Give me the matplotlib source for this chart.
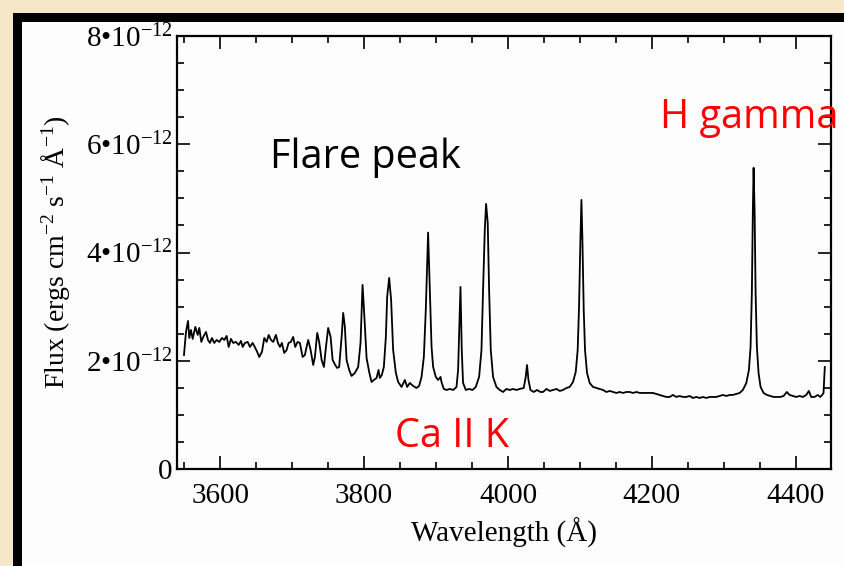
import matplotlib
matplotlib.use("Agg")
import matplotlib.pyplot as plt
from matplotlib.patches import Rectangle
from matplotlib.ticker import FixedLocator, MultipleLocator, FuncFormatter
import numpy as np

plt.rcParams['font.family'] = ['Liberation Serif', 'DejaVu Serif']
plt.rcParams['mathtext.fontset'] = 'custom'
plt.rcParams['mathtext.rm'] = 'Liberation Serif'
plt.rcParams['mathtext.it'] = 'Liberation Serif:italic'
plt.rcParams['mathtext.bf'] = 'Liberation Serif:bold'

# ---- data ----
wavelength = [
    3549.7, 3552.5, 3555.3, 3557.1, 3559.4, 3561.8, 3565.4, 3568.8, 3571.0, 3573.8,
    3576.5, 3580.3, 3583.1, 3585.8, 3588.6, 3591.8, 3595.1, 3598.8, 3602.5, 3605.7,
    3609.0, 3611.8, 3615.0, 3618.2, 3621.9, 3625.7, 3628.9, 3631.3, 3634.4, 3638.2,
    3641.4, 3645.1, 3648.8, 3652.1, 3654.3, 3658.1, 3661.3, 3664.6, 3667.4, 3670.6,
    3673.8, 3677.5, 3680.3, 3683.1, 3685.8, 3689.0, 3692.4, 3695.1, 3698.3, 3701.5,
    3704.3, 3707.6, 3710.8, 3714.6, 3717.8, 3719.2, 3722.4, 3725.7, 3729.3, 3731.7,
    3734.9, 3737.6, 3741.0, 3744.2, 3746.9, 3750.1, 3753.5, 3756.3, 3759.9, 3762.6,
    3765.4, 3768.8, 3771.0, 3773.3, 3775.7, 3779.3, 3782.6, 3787.2, 3791.8, 3795.1,
    3797.9, 3800.7, 3803.5, 3807.1, 3810.4, 3813.6, 3817.4, 3820.1, 3821.9, 3824.7,
    3827.5, 3830.3, 3832.1, 3834.9, 3837.6, 3840.4, 3844.2, 3847.4, 3852.1, 3856.7,
    3859.9, 3863.6, 3868.2, 3872.9, 3876.5, 3879.9, 3883.1, 3885.8, 3889.0, 3891.4,
    3893.8, 3896.0, 3899.7, 3902.9, 3906.3, 3907.6, 3910.8, 3914.6, 3919.2, 3923.8,
    3928.5, 3930.7, 3934.0, 3935.8, 3937.6, 3941.4, 3946.0, 3950.7, 3955.3, 3959.9,
    3963.2, 3965.4, 3967.8, 3969.6, 3971.9, 3973.8, 3976.1, 3979.3, 3984.0, 3988.6,
    3993.2, 3997.9, 4002.5, 4007.1, 4011.8, 4016.4, 4021.9, 4024.7, 4026.5, 4028.5,
    4031.3, 4035.8, 4040.4, 4045.1, 4048.8, 4053.5, 4058.1, 4062.6, 4067.4, 4072.0,
    4076.5, 4081.3, 4085.8, 4090.4, 4094.2, 4096.9, 4098.8, 4100.7, 4102.1, 4103.5,
    4105.3, 4107.1, 4109.9, 4113.6, 4118.2, 4122.9, 4127.5, 4132.1, 4136.8, 4141.4,
    4146.0, 4150.7, 4155.3, 4159.9, 4164.6, 4169.2, 4173.7, 4178.5, 4183.1, 4187.6,
    4192.4, 4197.0, 4201.5, 4206.3, 4210.8, 4215.4, 4220.1, 4224.7, 4229.3, 4234.0,
    4238.6, 4243.2, 4247.9, 4252.5, 4257.1, 4261.8, 4266.4, 4271.0, 4275.7, 4280.3,
    4284.9, 4289.6, 4294.2, 4298.8, 4303.5, 4308.1, 4312.6, 4317.4, 4322.0, 4326.5,
    4331.3, 4334.9, 4337.2, 4339.0, 4340.4, 4341.4, 4342.8, 4344.2, 4346.0, 4348.3,
    4351.1, 4355.3, 4359.9, 4364.6, 4369.2, 4373.8, 4378.5, 4383.1, 4387.6, 4391.4,
    4396.0, 4400.7, 4405.3, 4409.9, 4414.6, 4418.2, 4421.5, 4426.1, 4430.7, 4434.0,
    4436.8, 4438.6, 4440.4,
]
flux_e12 = [
    2.107, 2.532, 2.736, 2.421, 2.569, 2.403, 2.625, 2.477, 2.606, 2.348,
    2.440, 2.532, 2.384, 2.329, 2.421, 2.329, 2.384, 2.348, 2.421, 2.384,
    2.458, 2.255, 2.403, 2.329, 2.348, 2.292, 2.366, 2.255, 2.329, 2.348,
    2.255, 2.329, 2.237, 2.144, 2.070, 2.163, 2.421, 2.348, 2.477, 2.384,
    2.348, 2.477, 2.329, 2.255, 2.329, 2.144, 2.200, 2.329, 2.348, 2.440,
    2.255, 2.348, 2.329, 2.070, 2.107, 2.200, 2.384, 2.200, 1.922, 2.070,
    2.514, 2.348, 2.015, 1.885, 2.237, 2.606, 2.440, 2.015, 1.922, 1.867,
    1.885, 2.440, 2.884, 2.625, 2.015, 1.830, 1.719, 1.775, 1.885, 2.329,
    3.401, 2.754, 2.052, 1.793, 1.608, 1.645, 1.682, 1.830, 1.682, 1.738,
    1.885, 2.440, 3.179, 3.531, 3.124, 2.200, 1.775, 1.608, 1.516, 1.645,
    1.516, 1.590, 1.534, 1.497, 1.534, 1.701, 2.070, 2.939, 4.368, 3.309,
    2.255, 1.885, 1.701, 1.645, 1.701, 1.608, 1.479, 1.460, 1.479, 1.460,
    1.516, 1.830, 3.364, 2.200, 1.590, 1.460, 1.479, 1.460, 1.516, 1.701,
    2.200, 3.309, 4.418, 4.898, 4.547, 3.309, 2.200, 1.701, 1.516, 1.460,
    1.423, 1.479, 1.460, 1.479, 1.460, 1.479, 1.497, 1.701, 1.922, 1.645,
    1.460, 1.423, 1.460, 1.423, 1.423, 1.479, 1.442, 1.460, 1.479, 1.442,
    1.460, 1.497, 1.516, 1.608, 1.793, 2.200, 2.994, 4.233, 4.972, 4.233,
    2.939, 2.200, 1.775, 1.590, 1.516, 1.497, 1.479, 1.460, 1.423, 1.442,
    1.423, 1.405, 1.423, 1.405, 1.423, 1.423, 1.405, 1.423, 1.405, 1.405,
    1.405, 1.405, 1.405, 1.386, 1.368, 1.349, 1.331, 1.331, 1.368, 1.331,
    1.349, 1.331, 1.331, 1.349, 1.312, 1.331, 1.312, 1.331, 1.312, 1.331,
    1.331, 1.331, 1.349, 1.368, 1.349, 1.368, 1.368, 1.386, 1.405, 1.460,
    1.590, 1.830, 2.255, 3.253, 4.787, 5.564, 4.787, 3.253, 2.255, 1.775,
    1.516, 1.405, 1.368, 1.349, 1.331, 1.331, 1.331, 1.349, 1.423, 1.368,
    1.349, 1.331, 1.349, 1.331, 1.368, 1.442, 1.331, 1.331, 1.368, 1.331,
    1.368, 1.405, 1.885,
]
flux_scale = 1e-12
x_ticks = [3600, 3800, 4000, 4200, 4400]
y_ticks = [0, 2, 4, 6, 8]  # in units of 1e-12
annotations = ["Flare peak", "H gamma", "Ca II K"]

W, H = 844, 566
fig = plt.figure(figsize=(W / 100, H / 100), dpi=100)
fig.patch.set_facecolor('#F6E7C9')

# black frame and white panel (decoration)
fig.patches.append(Rectangle((13 / W, 0), 1, 1 - 13 / H, transform=fig.transFigure,
                             facecolor='black', edgecolor='none', zorder=-20))
fig.patches.append(Rectangle((22 / W, 0), 1, 1 - 22 / H, transform=fig.transFigure,
                             facecolor='#FDFDFD', edgecolor='none', zorder=-10))

ax = fig.add_axes([177 / W, 1 - 469 / H, (831 - 177) / W, (469 - 36) / H])
ax.set_facecolor('#FDFDFD')
ax.set_zorder(1)

ax.plot(wavelength, np.array(flux_e12) * flux_scale, color='black', lw=1.3)

ax.set_xlim(3540, 4449)
ax.set_ylim(0, 8e-12)
ax.xaxis.set_major_locator(FixedLocator(x_ticks))
ax.xaxis.set_minor_locator(MultipleLocator(50))
ax.yaxis.set_major_locator(FixedLocator([v * flux_scale for v in y_ticks]))
ax.yaxis.set_minor_locator(MultipleLocator(0.5e-12))


def yfmt(v, pos):
    n = int(round(v / flux_scale))
    if n == 0:
        return '0'
    return '%d\u202210$^{-12}$' % n


ax.yaxis.set_major_formatter(FuncFormatter(yfmt))

for s in ax.spines.values():
    s.set_linewidth(1.6)
ax.tick_params(which='both', direction='in', top=True, right=True, width=1.2)
ax.tick_params(which='major', length=9.5, labelsize=21)
ax.tick_params(which='minor', length=5)
ax.tick_params(axis='x', which='major', pad=10)
ax.tick_params(axis='y', which='major', pad=3)

ax.set_xlabel('Wavelength (Å)', fontsize=21, labelpad=6)
ax.set_ylabel('Flux (ergs cm$^{-2}$ s$^{-1}$ Å$^{-1}$)', fontsize=20, labelpad=10)

sans = ['Open Sans', 'DejaVu Sans']
fig.text(270 / W, 1 - 158 / H, annotations[0], fontsize=28.5, family=sans,
         color='black', va='center', ha='left', zorder=10)
fig.text(660 / W, 1 - 118 / H, annotations[1], fontsize=28.5, family=sans,
         color='#FF0000', va='center', ha='left', zorder=10)
fig.text(395 / W, 1 - 437 / H, annotations[2], fontsize=28.5, family=sans,
         color='#FF0000', va='center', ha='left', zorder=10)

fig.savefig('out.png', dpi=100, facecolor=fig.get_facecolor())
